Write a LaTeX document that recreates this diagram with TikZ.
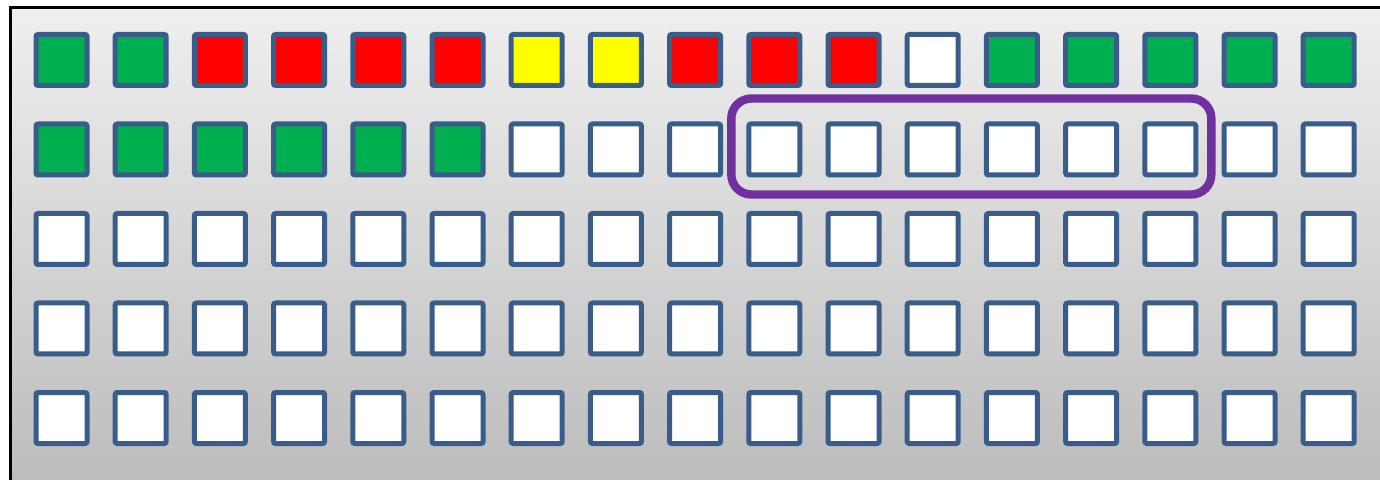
\documentclass[tikz,border=0pt]{standalone}
\usepackage{tikz}

\definecolor{cellg}{HTML}{00B050}
\definecolor{cellr}{HTML}{FF0000}
\definecolor{celly}{HTML}{FFFF00}
\definecolor{cellw}{HTML}{FFFFFF}
\definecolor{cellline}{HTML}{385D8A}
\definecolor{groupline}{HTML}{7030A0}
\definecolor{bgtop}{HTML}{EFEFEF}
\definecolor{bgbot}{HTML}{BCBCBC}

\tikzset{
  cell/.style={draw=cellline, line width=2.5pt, minimum size=25.5pt,
    inner sep=0pt, outer sep=0pt, rounded corners=1pt},
  groupbox/.style={draw=groupline, line width=4.2pt, rounded corners=10pt}
}

\begin{document}
\begin{tikzpicture}[x=0.5pt, y=-0.5pt]
  \useasboundingbox (0,0) rectangle (1380,480);
  % panel
  \shade[top color=bgtop, bottom color=bgbot] (12,9) rectangle (1380,480);
  \draw[line width=1.75pt] (10.5,480) -- (10.5,7.5) -- (1380,7.5);
  % cells
  \foreach \row [count=\r] in {
      {g,g,r,r,r,r,y,y,r,r,r,w,g,g,g,g,g},
      {g,g,g,g,g,g,w,w,w,w,w,w,w,w,w,w,w},
      {w,w,w,w,w,w,w,w,w,w,w,w,w,w,w,w,w},
      {w,w,w,w,w,w,w,w,w,w,w,w,w,w,w,w,w},
      {w,w,w,w,w,w,w,w,w,w,w,w,w,w,w,w,w}} {
    \foreach \col [count=\c] in \row {
      \node[cell, fill=cell\col] (c-\r-\c) at ({61.5+(\c-1)*79.2}, {60+(\r-1)*89.5}) {};
    }
  }
  % selected group
  \draw[groupbox] ([shift={(-17.5,-25.5)}]c-2-10.north west) rectangle ([shift={(15.5,19.5)}]c-2-15.south east);
\end{tikzpicture}
\end{document}
